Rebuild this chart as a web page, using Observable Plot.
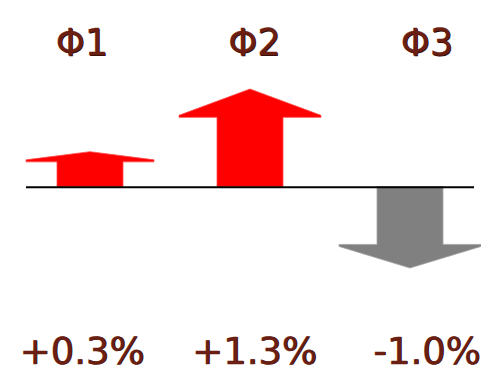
<!DOCTYPE html>
<html>
<head>
<meta charset="utf-8">
<script src="https://cdn.jsdelivr.net/npm/d3@7"></script>
<script src="https://cdn.jsdelivr.net/npm/@observablehq/plot@0.6"></script>
<style>
  body { margin: 0; background: #fff; }
  #chart svg { display: block; }
</style>
</head>
<body>
<div id="chart"></div>
<script>
// Phase-by-phase change, shown as up/down arrows
const phases = ["Φ1", "Φ2", "Φ3"];
const changes = [0.3, 1.3, -1.0];
const changeLabels = ["+0.3%", "+1.3%", "-1.0%"];

const rows = phases.map((phase, i) => ({phase, change: changes[i], label: changeLabels[i]}));

// Block arrow from the baseline y0 to the tip yt (pixel space)
function arrowPath(cx, y0, yt) {
  const dir = Math.sign(y0 - yt);           // 1 = pointing up, -1 = down
  const len = Math.abs(y0 - yt);
  const headH = 0.29 * len;
  const hs = 33, hh = len < 50 ? 64 : 71, edge = 2;
  const yb = yt + dir * headH;               // head base
  const ye = yb - dir * edge;                // outer corner of the head
  return `M${cx - hs},${y0}L${cx - hs},${yb}L${cx - hh},${yb}L${cx - hh},${ye}` +
         `L${cx},${yt}L${cx + hh},${ye}L${cx + hh},${yb}L${cx + hs},${yb}L${cx + hs},${y0}Z`;
}

const arrows = Plot.dot(rows, {
  x: "phase",
  y: "change",
  render(index, scales, values) {
    const y0 = scales.y(0);
    const g = d3.create("svg:g");
    for (const i of index) {
      const up = rows[i].change > 0;
      g.append("path")
        .attr("d", arrowPath(values.x[i], y0, values.y[i]))
        .attr("fill", up ? "#ff0000" : "#808080")
        .attr("stroke", up ? "#ff4a4a" : "#a3a3a3")
        .attr("stroke-width", 0.8);
    }
    return g.node();
  }
});

const textColor = "#6a1f12";
const shadowColor = "#2a0905";
const labelSpread = 12.5;

// Label with a small dark drop shadow underneath
function labels(field, frameAnchor, dy) {
  return rows.flatMap((d, i) => {
    const dx = labelSpread * (i - 1) + 4;
    const common = {x: "phase", text: field, frameAnchor, fontSize: 37};
    return [
      Plot.text([d], {...common, dx: dx + 0.8, dy: dy + 0.8, fill: shadowColor}),
      Plot.text([d], {...common, dx, dy, fill: textColor, stroke: textColor, strokeWidth: 0.35})
    ];
  });
}

const chart = Plot.plot({
  width: 481,
  height: 381,
  marginLeft: 26,
  marginRight: 7,
  marginTop: 0,
  marginBottom: 0,
  style: {fontFamily: "'DejaVu Sans', Verdana, sans-serif", background: "#fff"},
  x: {type: "point", domain: phases, range: [90, 410], padding: 0, axis: null},
  y: {type: "pow", exponent: 0.7, domain: d3.extent(changes), range: [268, 89], axis: null},
  marks: [
    arrows,
    Plot.ruleY([0], {stroke: "#000", strokeWidth: 2}),
    ...labels("phase", "top", 28.5),
    ...labels("label", "bottom", -18)
  ]
});

document.getElementById("chart").append(chart);
</script>
</body>
</html>
